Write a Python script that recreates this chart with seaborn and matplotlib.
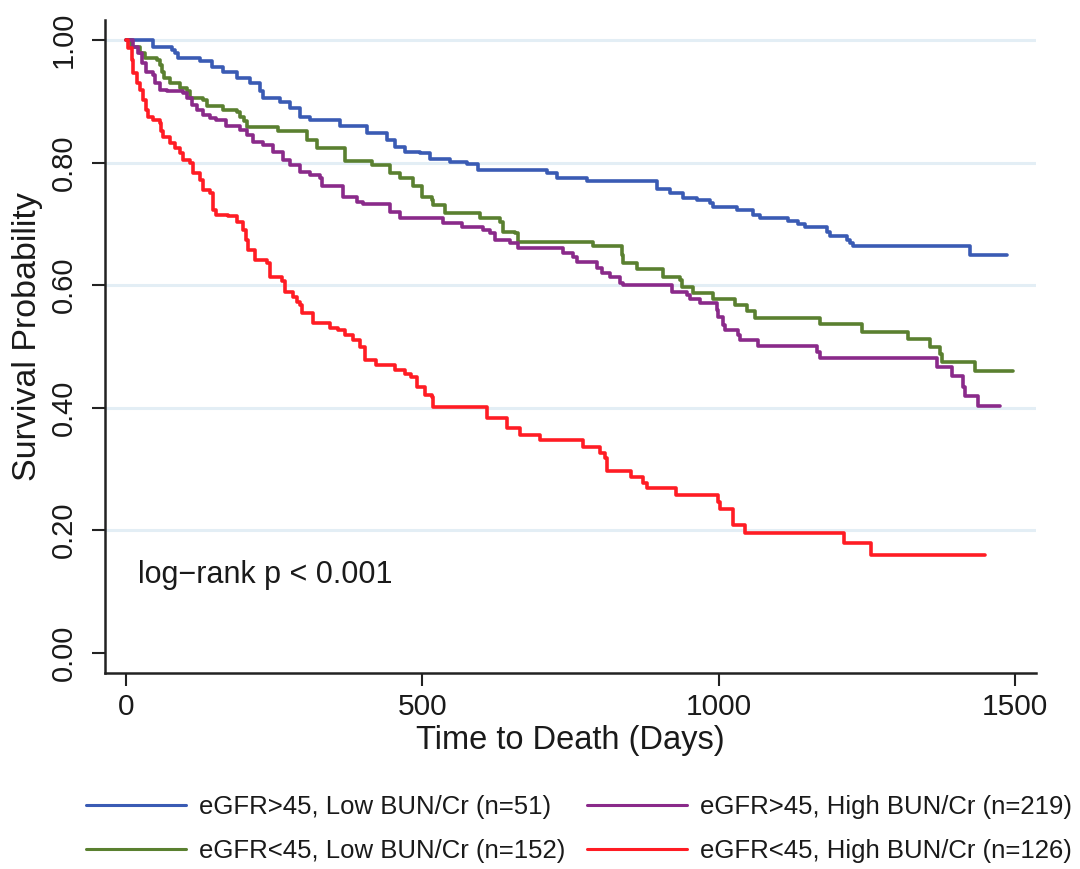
import numpy as np
import pandas as pd
import matplotlib
matplotlib.use("Agg")
import matplotlib.pyplot as plt
import seaborn as sns

# ---------------- data ----------------
group_labels = [
    "eGFR>45, Low BUN/Cr (n=51)",
    "eGFR<45, Low BUN/Cr (n=152)",
    "eGFR>45, High BUN/Cr (n=219)",
    "eGFR<45, High BUN/Cr (n=126)",
]

blue_t = [0, 46, 78, 83, 88, 125, 146, 164, 188, 210, 226, 232, 260, 277, 294, 311, 361, 407, 441,
          454, 471, 496, 513, 547, 576, 594, 711, 728, 778, 896, 918, 940, 964, 985, 990, 1031, 1058,
          1070, 1117, 1134, 1146, 1183, 1188, 1217, 1222, 1227, 1424, 1486]
blue_s = [1.0, 0.989, 0.984, 0.979, 0.971, 0.965, 0.956, 0.948, 0.938, 0.930, 0.916, 0.905, 0.899,
          0.889, 0.875, 0.869, 0.860, 0.848, 0.837, 0.826, 0.818, 0.816, 0.806, 0.801, 0.798, 0.788,
          0.783, 0.775, 0.770, 0.757, 0.750, 0.742, 0.739, 0.734, 0.728, 0.723, 0.714, 0.709, 0.705,
          0.700, 0.695, 0.687, 0.680, 0.674, 0.669, 0.664, 0.649, 0.649]

green_t = [0, 9, 24, 33, 53, 58, 61, 65, 75, 92, 103, 108, 130, 137, 164, 188, 193, 200, 205, 257,
           305, 322, 370, 415, 446, 463, 485, 500, 517, 518, 539, 598, 631, 636, 657, 662, 788, 837,
           839, 862, 906, 935, 938, 957, 990, 1028, 1048, 1061, 1171, 1242, 1320, 1357, 1374, 1377,
           1432, 1497]
green_s = [1.0, 0.989, 0.979, 0.971, 0.967, 0.959, 0.947, 0.938, 0.930, 0.922, 0.916, 0.905, 0.902,
           0.892, 0.886, 0.883, 0.875, 0.867, 0.858, 0.852, 0.837, 0.824, 0.803, 0.796, 0.783, 0.775,
           0.761, 0.744, 0.739, 0.731, 0.718, 0.709, 0.703, 0.687, 0.685, 0.671, 0.663, 0.649, 0.636,
           0.626, 0.614, 0.608, 0.597, 0.587, 0.577, 0.567, 0.557, 0.547, 0.536, 0.524, 0.512, 0.499,
           0.488, 0.475, 0.460, 0.460]

purple_t = [0, 12, 21, 27, 35, 46, 49, 58, 69, 97, 103, 111, 120, 130, 142, 153, 170, 193, 204, 215,
            232, 248, 265, 277, 294, 311, 328, 331, 366, 390, 400, 446, 463, 535, 567, 603, 614, 623,
            648, 662, 738, 754, 761, 795, 803, 817, 834, 839, 921, 946, 952, 969, 997, 999, 1007, 1011,
            1033, 1036, 1067, 1166, 1171, 1368, 1394, 1412, 1416, 1438, 1475]
purple_s = [1.0, 0.989, 0.979, 0.962, 0.948, 0.943, 0.930, 0.918, 0.916, 0.914, 0.905, 0.894, 0.886,
            0.878, 0.873, 0.869, 0.859, 0.853, 0.845, 0.834, 0.829, 0.818, 0.804, 0.796, 0.785, 0.780,
            0.775, 0.761, 0.744, 0.736, 0.732, 0.720, 0.709, 0.702, 0.695, 0.690, 0.685, 0.674, 0.669,
            0.661, 0.652, 0.646, 0.638, 0.628, 0.620, 0.614, 0.604, 0.600, 0.588, 0.584, 0.577, 0.571,
            0.559, 0.548, 0.535, 0.527, 0.519, 0.510, 0.501, 0.491, 0.481, 0.467, 0.452, 0.434, 0.419,
            0.402, 0.402]

red_t = [0, 4, 10, 12, 19, 24, 29, 34, 38, 46, 58, 60, 63, 75, 83, 92, 97, 108, 114, 125, 130, 142,
         147, 153, 173, 187, 198, 203, 206, 218, 238, 243, 263, 269, 282, 289, 294, 297, 316, 345, 358,
         370, 383, 395, 404, 423, 454, 471, 482, 491, 505, 516, 518, 609, 643, 665, 699, 771, 800, 809,
         811, 853, 872, 879, 929, 999, 1002, 1024, 1045, 1212, 1257, 1449]
red_s = [1.0, 0.987, 0.967, 0.946, 0.930, 0.918, 0.902, 0.886, 0.875, 0.869, 0.865, 0.852, 0.842,
         0.832, 0.824, 0.816, 0.804, 0.799, 0.783, 0.771, 0.755, 0.750, 0.723, 0.714, 0.713, 0.703,
         0.690, 0.674, 0.657, 0.641, 0.636, 0.614, 0.606, 0.589, 0.581, 0.573, 0.567, 0.554, 0.538,
         0.530, 0.527, 0.519, 0.510, 0.499, 0.478, 0.470, 0.461, 0.455, 0.450, 0.434, 0.421, 0.418,
         0.401, 0.383, 0.367, 0.355, 0.347, 0.336, 0.326, 0.318, 0.297, 0.287, 0.277, 0.269, 0.257,
         0.246, 0.235, 0.208, 0.195, 0.179, 0.159, 0.159]

y_ticks = [0.0, 0.2, 0.4, 0.6, 0.8, 1.0]
x_ticks = [0, 500, 1000, 1500]
colors = ["#3a5bb4", "#5a8030", "#8a2a8a", "#ff1c24"]

# ---------------- build table ----------------
frames = []
for lab, t, s in zip(group_labels, [blue_t, green_t, purple_t, red_t],
                     [blue_s, green_s, purple_s, red_s]):
    frames.append(pd.DataFrame({"time": t, "surv": s, "group": lab}))
df = pd.concat(frames, ignore_index=True)

# ---------------- plot ----------------
sns.set_style("ticks")
plt.rcParams["font.family"] = ["Liberation Sans", "DejaVu Sans"]
plt.rcParams["axes.unicode_minus"] = True

fig = plt.figure(figsize=(10.8, 8.69), dpi=100)
ax = fig.add_axes([105 / 1080, 1 - 672.7 / 869, (1036 - 105) / 1080, (672.7 - 20) / 869])

# grid lines (light blue) at 0.2 .. 1.0
for yv in y_ticks[1:]:
    ax.axhline(yv, color="#e3eef5", lw=2.2, zorder=0)

sns.lineplot(data=df, x="time", y="surv", hue="group", hue_order=group_labels,
             palette=colors, estimator=None, sort=False, drawstyle="steps-post",
             linewidth=2.6, legend=False, ax=ax)

x0_px, x1500_px = 125.7, 1015.0
ppd = (x1500_px - x0_px) / 1500
ax.set_xlim(-(x0_px - 105) / ppd, (1036 - x0_px) / ppd)
ax.set_ylim(-(672.7 - 652.7) / 612.7, 1 + 20 / 612.7)

ax.set_xticks(x_ticks)
ax.set_xticklabels([str(v) for v in x_ticks], fontsize=21.5)
ax.set_yticks(y_ticks)
ax.set_yticklabels([f"{v:.2f}" for v in y_ticks], fontsize=21, rotation=90, va="center")
ax.tick_params(axis="both", length=9.4, width=1.5, color="#222222", labelcolor="#1a1a1a")
ax.tick_params(axis="y", pad=10)
ax.tick_params(axis="x", pad=5)

for side in ["top", "right"]:
    ax.spines[side].set_visible(False)
for side in ["left", "bottom"]:
    ax.spines[side].set_linewidth(1.8)
    ax.spines[side].set_color("#222222")

ax.set_xlabel("Time to Death (Days)", fontsize=23.5, color="#1a1a1a")
ax.set_ylabel("Survival Probability", fontsize=24.5, color="#1a1a1a")
ax.xaxis.set_label_coords((570 - 105) / 931, -(740 - 672.7) / 652.7)
ax.yaxis.set_label_coords((28 - 105) / 931, (672.7 - 337) / 652.7)
ax.xaxis.label.set_va("center")
ax.yaxis.label.set_va("center")

ax.text(21, 0.127, "log\u2212rank p < 0.001", fontsize=22, color="#1a1a1a",
        va="center", ha="left")

handles = ax.get_lines()[len(y_ticks) - 1:]
leg = fig.legend(handles, group_labels, ncol=2, loc="center left",
                 bbox_to_anchor=(86 / 1080, 0.046), frameon=False, fontsize=18.5,
                 handlelength=3.9, handletextpad=0.5, columnspacing=0.85,
                 labelspacing=0.75, borderpad=0, borderaxespad=0)
for t in leg.get_texts():
    t.set_color("#1a1a1a")
for h in leg.legend_handles:
    h.set_linewidth(2.2)

fig.savefig("out.png", dpi=100)
